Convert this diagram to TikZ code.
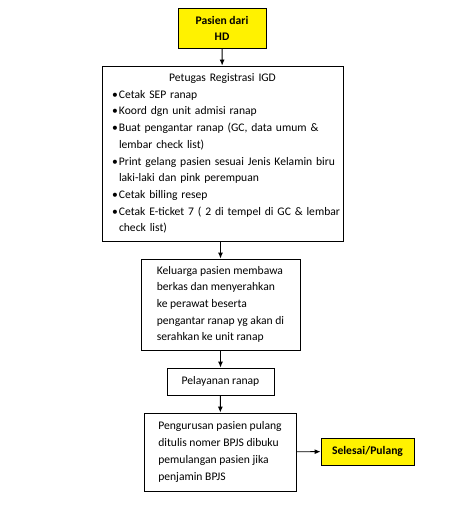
\documentclass[tikz,border=0pt]{standalone}
\usepackage{fontspec}
\setmainfont{Carlito}
\usetikzlibrary{arrows.meta}
\begin{document}
\begin{tikzpicture}[x=1pt,y=-1pt]
\tikzstyle{every node}+=[inner sep=0pt, font=\fontsize{11.6}{16.7}\selectfont]
\tikzstyle{box}=[draw=black, line width=0.9pt, align=left]
\tikzstyle{ends}=[box, fill=yellow, align=center, font=\bfseries\fontsize{11.6}{16}\selectfont]
\tikzstyle{flow}=[black, line width=0.9pt, -{Latex[length=6pt,width=5pt]}]
\useasboundingbox (0,0) rectangle (453,505);

\node [ends, minimum width=88, minimum height=40] (hd) at (222,28) {Pasien dari\\HD};

\node [box, text width=237, minimum width=241, minimum height=175] (igd) at (222.5,153.5)
{\makebox[\linewidth]{Petugas Registrasi IGD}\\
\hspace*{8pt}\makebox[7pt][l]{\textbullet}Cetak SEP ranap\\
\hspace*{8pt}\makebox[7pt][l]{\textbullet}Koord dgn unit admisi ranap\\
\hspace*{8pt}\makebox[7pt][l]{\textbullet}Buat pengantar ranap (GC, data umum \&\\
\hspace*{15pt}lembar check list)\\
\hspace*{8pt}\makebox[7pt][l]{\textbullet}Print gelang pasien sesuai Jenis Kelamin biru\\
\hspace*{15pt}laki-laki dan pink perempuan\\
\hspace*{8pt}\makebox[7pt][l]{\textbullet}Cetak billing resep\\
\hspace*{8pt}\makebox[7pt][l]{\textbullet}Cetak E-ticket 7 ( 2 di tempel di GC \& lembar\\
\hspace*{15pt}check list)};

\node [box, minimum width=159, minimum height=91] (kel) at (220.5,304.5)
{Keluarga pasien membawa\\berkas dan menyerahkan\\ke perawat beserta\\pengantar ranap yg akan di\\serahkan ke unit ranap};

\node [box, align=center, minimum width=107, minimum height=27] (layan) at (220.5,381.5) {Pelayanan ranap};

\node [box, minimum width=152, minimum height=78] (urus) at (220,452)
{Pengurusan pasien pulang\\ditulis nomer BPJS dibuku\\pemulangan pasien jika\\penjamin BPJS};

\node [ends, minimum width=93, minimum height=27] (pulang) at (367.5,451.5) {Selesai/Pulang};

\draw [flow] (hd) -- (igd);
\draw [flow] (igd.south -| kel.north) -- (kel);
\draw [flow] (kel) -- (layan);
\draw [flow] (layan) -- (urus);
\draw [flow] (urus) -- (pulang);
\end{tikzpicture}
\end{document}
